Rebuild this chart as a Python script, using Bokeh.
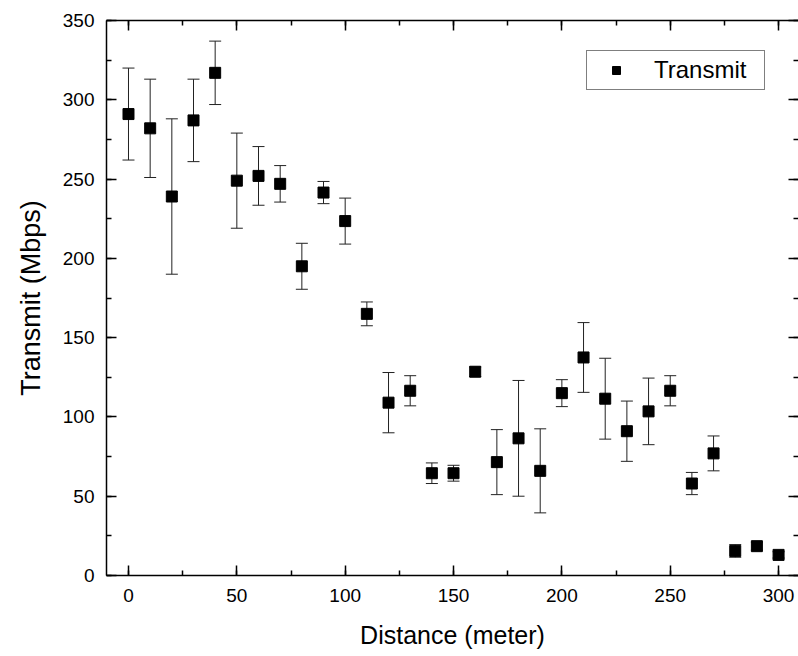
from bokeh.plotting import figure
from bokeh.models import (ColumnDataSource, Whisker, TeeHead, LinearAxis,
                          SingleIntervalTicker, Range1d, CustomJSTickFormatter)
from bokeh.embed import file_html
from bokeh.resources import INLINE

# ---- data ----
distance = [0, 10, 20, 30, 40, 50, 60, 70, 80, 90, 100, 110, 120, 130, 140, 150,
            160, 170, 180, 190, 200, 210, 220, 230, 240, 250, 260, 270, 280, 290, 300]
transmit = [291, 282, 239, 287, 317, 249, 252, 247, 195, 241.5, 223.5, 165, 109,
            116.5, 64.5, 64.5, 128.5, 71.5, 86.5, 66, 115, 137.5, 111.5, 91, 103.5,
            116.5, 58, 77, 15.5, 18.5, 13]
error = [29, 31, 49, 26, 20, 30, 18.5, 11.5, 14.5, 7, 14.5, 7.5, 19, 9.5, 6.5, 5,
         3, 20.5, 36.5, 26.5, 8.5, 22, 25.5, 19, 21, 9.5, 7, 11, 4, 2.5, 2]
x_label = "Distance (meter)"
y_label = "Transmit (Mbps)"
series_name = "Transmit"

src = ColumnDataSource(dict(
    x=distance, y=transmit,
    upper=[v + e for v, e in zip(transmit, error)],
    lower=[v - e for v, e in zip(transmit, error)],
))

FONT = "Liberation Sans"

p = figure(width=798, height=656, x_range=Range1d(-10.15, 309.2),
           y_range=Range1d(0, 350), output_backend="svg", toolbar_location=None,
           min_border_left=106, min_border_right=0, min_border_top=20,
           min_border_bottom=81)
p.xgrid.visible = False
p.ygrid.visible = False
p.outline_line_color = None
p.background_fill_color = "white"
p.border_fill_color = "white"

def style(ax, labels=True):
    ax.ticker = SingleIntervalTicker(interval=50, num_minor_ticks=2)
    ax.major_tick_in = 10
    ax.major_tick_out = 0
    ax.minor_tick_in = 5
    ax.minor_tick_out = 0
    ax.axis_line_width = 1.5
    ax.major_tick_line_width = 1.5
    ax.minor_tick_line_width = 1.5
    ax.axis_line_color = "black"
    ax.major_tick_line_color = "black"
    ax.minor_tick_line_color = "black"
    if labels:
        ax.major_label_text_font = FONT
        ax.major_label_text_font_size = "19px"
        ax.major_label_text_color = "black"
        ax.axis_label_text_font = FONT
        ax.axis_label_text_font_style = "normal"
        ax.axis_label_text_color = "black"
    else:
        ax.formatter = CustomJSTickFormatter(code="return ''")
        ax.major_label_standoff = 0

style(p.xaxis[0])
p.xaxis[0].axis_label = x_label
p.xaxis[0].axis_label_text_font_size = "25px"
p.xaxis[0].major_label_standoff = 13
p.xaxis[0].axis_label_standoff = 16

style(p.yaxis[0])
p.yaxis[0].axis_label = y_label
p.yaxis[0].axis_label_text_font_size = "27px"
p.yaxis[0].major_label_standoff = 12
p.yaxis[0].axis_label_standoff = 14

top = LinearAxis()
style(top, labels=False)
p.add_layout(top, "above")

right = LinearAxis()
style(right, labels=False)
right.axis_line_color = None
p.add_layout(right, "right")

w = Whisker(source=src, base="x", upper="upper", lower="lower",
            dimension="height", line_color="#222222", line_width=1,
            upper_head=TeeHead(size=12, line_color="#222222", line_width=1),
            lower_head=TeeHead(size=12, line_color="#222222", line_width=1))
p.add_layout(w)

p.scatter("x", "y", source=src, marker="square", size=11,
          fill_color="black", line_color="black", legend_label=series_name)

lg = p.legend[0]
lg.location = (480, 485)
lg.margin = 0
lg.padding = 5
lg.spacing = 0
lg.glyph_width = 48
lg.label_standoff = 14
lg.label_width = 105
lg.label_text_font = FONT
lg.label_text_font_size = "24px"
lg.label_text_color = "black"
lg.border_line_color = "black"
lg.border_line_width = 1
lg.background_fill_alpha = 1

open("out.html", "w").write(file_html(p, INLINE))
